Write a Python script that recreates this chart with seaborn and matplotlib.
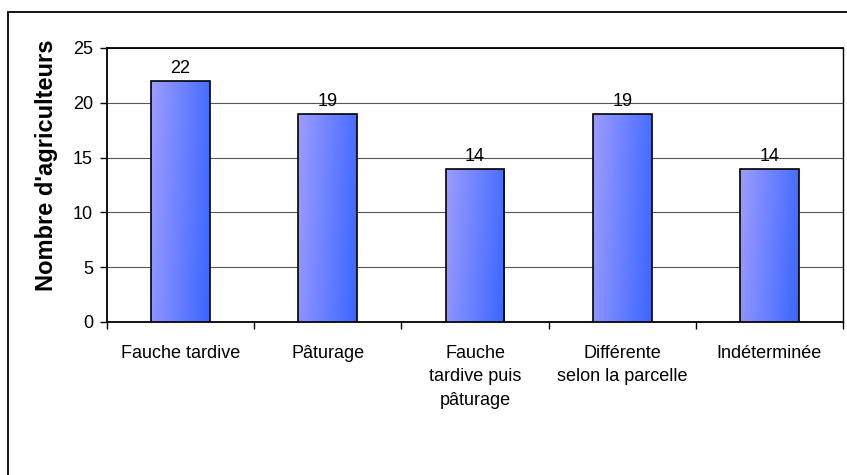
import numpy as np
import pandas as pd
import matplotlib
matplotlib.use("Agg")
import matplotlib.pyplot as plt
from matplotlib.patches import Rectangle
from matplotlib.colors import LinearSegmentedColormap
import seaborn as sns

categories = ["Fauche tardive", "Pâturage", "Fauche\ntardive puis\npâturage",
              "Différente\nselon la parcelle", "Indéterminée"]
values = [22, 19, 14, 19, 14]
y_ticks = [0, 5, 10, 15, 20, 25]
y_label = "Nombre d'agriculteurs"

sns.set_theme(style="white")
plt.rcParams["font.family"] = ["Liberation Sans", "DejaVu Sans"]
plt.rcParams["text.color"] = "black"
plt.rcParams["axes.labelcolor"] = "black"
plt.rcParams["xtick.color"] = "black"
plt.rcParams["ytick.color"] = "black"

W, H = 847, 475
fig = plt.figure(figsize=(W / 100, H / 100), dpi=100)
ax = fig.add_axes([107 / W, 1 - 322 / H, (843 - 107) / W, (322 - 48) / H])

df = pd.DataFrame({"mode": categories, "n": values})
sns.barplot(data=df, x="mode", y="n", ax=ax, width=0.4, color="#7788ff",
            edgecolor="black", linewidth=1.2, zorder=3)

ax.set_xlim(-0.5, len(categories) - 0.5)
ax.set_ylim(0, 25)
ax.set_yticks(y_ticks)
ax.yaxis.grid(True, color="#555555", linewidth=0.8, zorder=0)
ax.xaxis.grid(False)

# gradient fill inside each bar: light violet at top-left to blue at right
cmap = LinearSegmentedColormap.from_list("bar", ["#9c9cff", "#3a66ff"])
gx, gy = np.meshgrid(np.linspace(0, 1, 64), np.linspace(0, 1, 64))
grad = 0.85 * gx + 0.15 * (1 - gy)
for p in ax.patches:
    x0, y0 = p.get_x(), p.get_y()
    w, h = p.get_width(), p.get_height()
    im = ax.imshow(grad, cmap=cmap, extent=[x0, x0 + w, y0, y0 + h],
                   origin="lower", aspect="auto", zorder=3.5, interpolation="bilinear")
    im.set_clip_path(p)
    p.set_facecolor("none")
    p.set_zorder(4)
ax.set_xlim(-0.5, len(categories) - 0.5)
ax.set_ylim(0, 25)

for i, v in enumerate(values):
    ax.annotate(str(v), (i, v), xytext=(0, 2.5), textcoords="offset points",
                ha="center", va="bottom", fontsize=13, color="black")

for s in ["left", "right", "top", "bottom"]:
    ax.spines[s].set_visible(True)
    ax.spines[s].set_color("black")
ax.spines["left"].set_linewidth(1.3)
ax.spines["bottom"].set_linewidth(1.3)
ax.spines["top"].set_linewidth(1.3)
ax.spines["right"].set_linewidth(1.0)

ax.set_xticks(range(len(categories)))
ax.set_xticklabels(categories, fontsize=13, linespacing=1.5, va="top")
ax.set_xticks(np.arange(-0.5, len(categories)), minor=True)
ax.tick_params(axis="x", which="major", length=0, pad=16.5)
ax.tick_params(axis="x", which="minor", length=5, width=1, color="black", direction="out", bottom=True)
ax.tick_params(axis="y", which="major", length=5, width=1, color="black", direction="out",
               labelsize=13, pad=5, left=True)
ax.set_xlabel("")
ax.set_ylabel(y_label, fontsize=17, fontweight="bold", color="black")
ax.yaxis.set_label_coords(-0.067, 0.573)

# chart frame
fig.patches.append(Rectangle((8 / W, -0.1), 1.2, 1 - 12 / H + 0.1, transform=fig.transFigure,
                             fill=False, edgecolor="black", linewidth=1.3))

fig.savefig("out.png", dpi=100)
